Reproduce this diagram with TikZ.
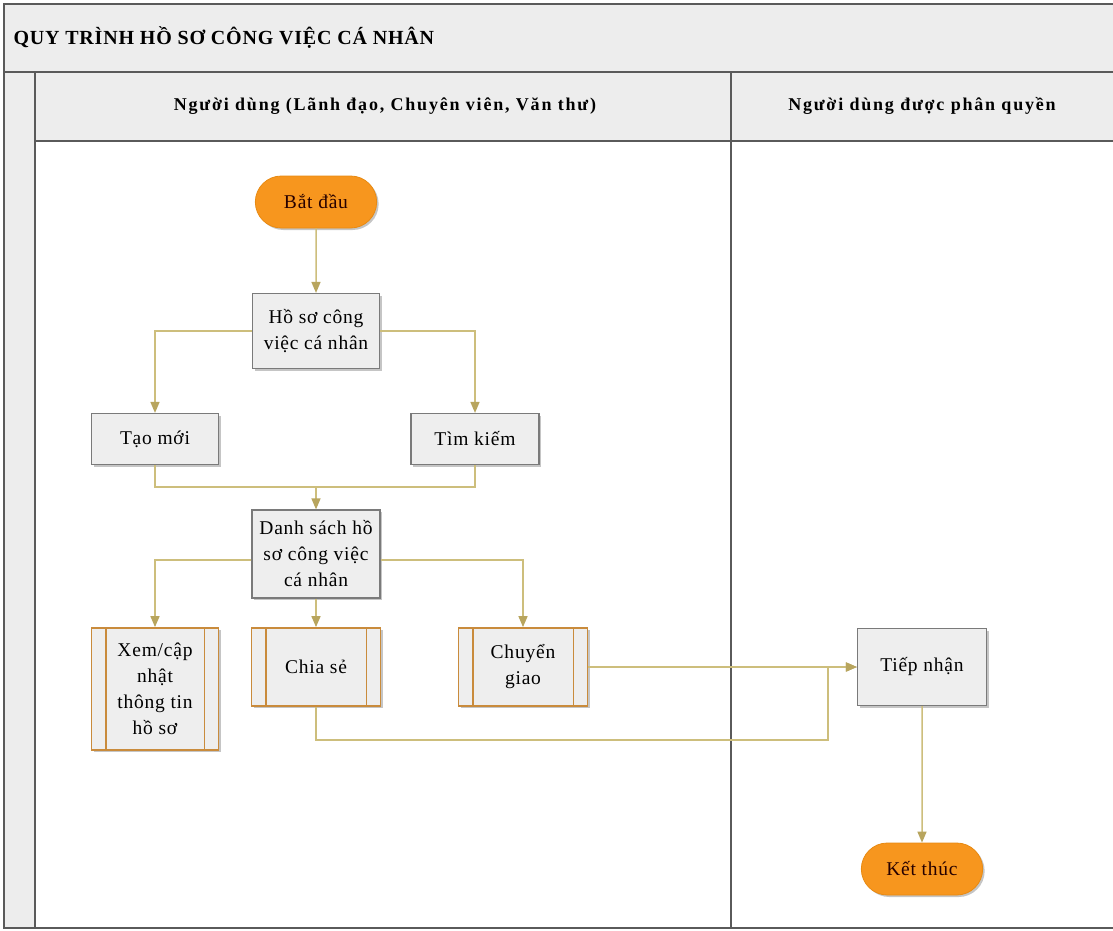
\documentclass[tikz,border=0pt]{standalone}
\usepackage{fontspec}
\setmainfont{Liberation Serif}
\newfontfamily\wideserif[LetterSpace=4]{Liberation Serif}
\newfontfamily\headserif[LetterSpace=10]{Liberation Serif}
\usetikzlibrary{arrows.meta,shapes.misc,shadows}

\definecolor{framegray}{HTML}{5A5A5A}
\definecolor{bandgray}{HTML}{EDEDED}
\definecolor{boxgray}{HTML}{EEEEEE}
\definecolor{boxedge}{HTML}{7A7A7A}
\definecolor{subedge}{HTML}{C98B3C}
\definecolor{pillfill}{HTML}{F7961E}
\definecolor{pilledge}{HTML}{E88A12}
\definecolor{linkcol}{HTML}{CDBE7C}
\definecolor{tipcol}{HTML}{B8A55E}

\tikzset{
  bodyfont/.style={font=\wideserif\fontsize{19.5}{26}\selectfont},
  softshadow/.style={drop shadow={opacity=0.45,shadow xshift=2pt,shadow yshift=-2pt}},
  pill/.style={rounded rectangle, fill=pillfill, draw=pilledge, line width=0.8pt,
    minimum width=128pt, minimum height=52pt, bodyfont, text=black!85!red, softshadow},
  procbox/.style={rectangle, fill=boxgray, draw=boxedge, line width=1.2pt,
    align=center, bodyfont, inner sep=2pt, softshadow},
  subbox/.style={rectangle, fill=boxgray, draw=subedge, line width=1.8pt,
    align=center, bodyfont, inner sep=2pt, softshadow},
  link/.style={draw=linkcol, line width=1.5pt},
  flow/.style={link, -{Triangle[length=11pt,width=9pt,color=tipcol]}},
  lanerule/.style={draw=framegray, line width=1.5pt},
}

\begin{document}
\begin{tikzpicture}[x=1pt,y=-1pt]
  \useasboundingbox (0,0) rectangle (1113,930);
  \fill[white] (0,0) rectangle (1113,930);

  % pool frame, title band, header row and left strip
  \fill[bandgray] (4,4) rectangle (1114,72);
  \fill[bandgray] (4,72) rectangle (35,928);
  \fill[bandgray] (35,72) rectangle (1114,141);
  \draw[lanerule] (4,4) rectangle (1114,928);
  \draw[lanerule] (4,72) -- (1114,72);
  \draw[lanerule] (35,72) -- (35,928);
  \draw[lanerule] (35,141) -- (1114,141);
  \draw[lanerule] (731,72) -- (731,928);

  \node[anchor=west, font=\wideserif\bfseries\fontsize{20}{24}\selectfont] (title) at (10,38)
    {QUY TRÌNH HỒ SƠ CÔNG VIỆC CÁ NHÂN};
  \node[font=\headserif\bfseries\fontsize{18}{22}\selectfont] (lane1) at (385,106)
    {Người dùng (Lãnh đạo, Chuyên viên, Văn thư)};
  \node[font=\headserif\bfseries\fontsize{18}{22}\selectfont] (lane2) at (922,106)
    {Người dùng được phân quyền};

  % flow nodes
  \node[pill] (start) at (316,202) {Bắt đầu};
  \node[procbox, minimum width=127pt, minimum height=75pt] (hoso) at (316,331)
    {Hồ sơ công\\việc cá nhân};
  \node[procbox, minimum width=127pt, minimum height=51pt] (taomoi) at (155,439) {Tạo mới};
  \node[procbox, minimum width=128pt, minimum height=51pt] (timkiem) at (475,439) {Tìm kiếm};
  \node[procbox, minimum width=128pt, minimum height=88pt] (danhsach) at (316,554)
    {Danh sách hồ\\sơ công việc\\cá nhân};
  \node[subbox, minimum width=127pt, minimum height=122pt] (xem) at (155,689)
    {Xem/cập\\nhật\\thông tin\\hồ sơ};
  \node[subbox, minimum width=129pt, minimum height=78pt] (chiase) at (316,667) {Chia sẻ};
  \node[subbox, minimum width=129pt, minimum height=78pt] (chuyengiao) at (523,667)
    {Chuyển\\giao};
  \node[procbox, minimum width=129pt, minimum height=77pt] (tiepnhan) at (922,667) {Tiếp nhận};
  \node[pill] (ketthuc) at (922,869) {Kết thúc};

  % inner bars of the sub-process boxes
  \foreach \n in {xem,chiase,chuyengiao}{
    \draw[subedge, line width=1.8pt] ([xshift=15pt]\n.north west) -- ([xshift=15pt]\n.south west);
    \draw[subedge, line width=1.8pt] ([xshift=-15pt]\n.north east) -- ([xshift=-15pt]\n.south east);
  }

  % connectors
  \coordinate (merge) at (316,487);
  \coordinate (bend) at (828,740);

  \draw[flow] (start) -- (hoso);
  \draw[flow] (hoso.west) -| (taomoi.north);
  \draw[flow] (hoso.east) -| (timkiem.north);
  \draw[link] (taomoi.south) |- (merge) -| (timkiem.south);
  \draw[flow] (merge) -- (danhsach.north);
  \draw[flow] ([yshift=-6pt]danhsach.west) -| (xem.north);
  \draw[flow] (danhsach) -- (chiase);
  \draw[flow] ([yshift=-6pt]danhsach.east) -| (chuyengiao.north);
  \draw[flow] (chuyengiao.east) -- (tiepnhan.west);
  \draw[flow] (chiase.south) |- (bend) |- (tiepnhan.west);
  \draw[flow] (tiepnhan) -- (ketthuc);
\end{tikzpicture}
\end{document}
